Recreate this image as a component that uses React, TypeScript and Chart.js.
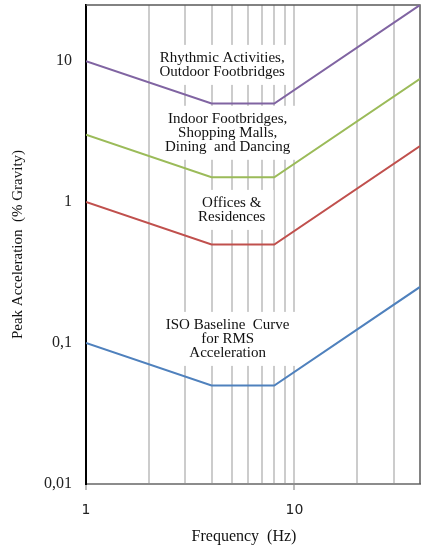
import { useEffect, useRef } from 'react';
import { Chart, registerables } from 'chart.js';

Chart.register(...registerables);

// Frequency breakpoints (Hz) shared by all acceptance curves
const frequencies = [1, 4, 8, 40];

// Peak acceleration limits (% gravity) at each breakpoint
const rhythmicActivities = [10, 5, 5, 25];
const indoorFootbridges = [3, 1.5, 1.5, 7.5];
const officesResidences = [1, 0.5, 0.5, 2.5];
const isoBaseline = [0.1, 0.05, 0.05, 0.25];

const seriesNames = [
  'Rhythmic Activities, Outdoor Footbridges',
  'Indoor Footbridges, Shopping Malls, Dining and Dancing',
  'Offices & Residences',
  'ISO Baseline Curve for RMS Acceleration',
];
const seriesColors = ['#8064A2', '#9BBB59', '#C0504D', '#4F81BD'];

// Axis ticks
const yTickValues = [0.01, 0.1, 1, 10];
const yTickLabels = ['0,01', '0,1', '1', '10'];
const xGridValues = [1, 2, 3, 4, 5, 6, 7, 8, 9, 10, 20, 30, 40];
const xLabelledValues = [1, 10];
const xTickLabels = ['1', '10'];

// Curve captions, anchored in data coordinates (Hz, % gravity)
const captionLines = [
  ['Rhythmic Activities,', 'Outdoor Footbridges'],
  ['Indoor Footbridges,', 'Shopping Malls,', 'Dining  and Dancing'],
  ['Offices &', 'Residences'],
  ['ISO Baseline  Curve', 'for RMS', 'Acceleration'],
];
const captionX = [4.5, 4.78, 5.0, 4.78];
const captionY = [9.4, 3.1, 0.88, 0.107];

const SERIF = '"Liberation Serif", "Times New Roman", serif';

const captionsPlugin = {
  id: 'captions',
  beforeDatasetsDraw(chart: any) {
    const { ctx, chartArea, scales } = chart;
    const xs = scales.x;
    const ys = scales.y;
    ctx.save();

    // top and right frame of the plot area
    ctx.strokeStyle = '#595959';
    ctx.lineWidth = 1.5;
    ctx.beginPath();
    ctx.moveTo(chartArea.left, chartArea.top);
    ctx.lineTo(chartArea.right, chartArea.top);
    ctx.lineTo(chartArea.right, chartArea.bottom);
    ctx.stroke();

    ctx.font = `15px ${SERIF}`;
    ctx.textAlign = 'center';
    ctx.textBaseline = 'middle';
    const lh = 14;
    captionLines.forEach((lines, i) => {
      const cx = xs.getPixelForValue(captionX[i]);
      const cy = ys.getPixelForValue(captionY[i]);
      const w = Math.max(...lines.map((l) => ctx.measureText(l).width));
      const h = lines.length * lh;
      ctx.fillStyle = '#ffffff';
      ctx.fillRect(cx - w / 2 - 8, cy - h / 2 - 6, w + 16, h + 12);
      ctx.fillStyle = '#111111';
      lines.forEach((line, j) => {
        ctx.fillText(line, cx, cy - h / 2 + lh / 2 + j * lh);
      });
    });
    ctx.restore();
  },
  afterDraw(chart: any) {
    const { ctx, chartArea } = chart;
    ctx.save();
    ctx.fillStyle = '#111111';
    ctx.font = `16px ${SERIF}`;
    ctx.textAlign = 'center';
    ctx.textBaseline = 'middle';
    ctx.fillText('Frequency  (Hz)', (chartArea.left + chartArea.right) / 2 - 9, chartArea.bottom + 53);
    ctx.font = `15px ${SERIF}`;
    ctx.translate(18, (chartArea.top + chartArea.bottom) / 2);
    ctx.rotate(-Math.PI / 2);
    ctx.fillText('Peak Acceleration  (% Gravity)', 0, 0);
    ctx.restore();
  },
};

export default function App() {
  const canvasRef = useRef<HTMLCanvasElement | null>(null);

  useEffect(() => {
    const canvas = canvasRef.current;
    if (!canvas) return;
    const series = [rhythmicActivities, indoorFootbridges, officesResidences, isoBaseline];

    const chart = new Chart(canvas, {
      type: 'line',
      data: {
        datasets: series.map((values, i) => ({
          label: seriesNames[i],
          data: frequencies.map((f, k) => ({ x: f, y: values[k] })),
          borderColor: seriesColors[i],
          backgroundColor: seriesColors[i],
          borderWidth: 2,
          pointRadius: 0,
          tension: 0,
          fill: false,
        })),
      },
      options: {
        responsive: false,
        animation: false,
        events: [],
        layout: { padding: { left: 0, top: 5, right: 4, bottom: 0 } },
        plugins: {
          legend: { display: false },
          tooltip: { enabled: false },
        },
        scales: {
          x: {
            type: 'logarithmic',
            min: 1,
            max: 40,
            afterBuildTicks: (scale: any) => {
              scale.ticks = xGridValues.map((v) => ({ value: v }));
            },
            afterFit: (scale: any) => {
              scale.height = 67;
              scale.paddingLeft = 0;
              scale.paddingRight = 0;
            },
            grid: {
              color: (c: any) =>
                c.tick && (c.tick.value === 1 || c.tick.value === 40) ? 'rgba(0,0,0,0)' : '#cccccc',
              lineWidth: 2,
              drawTicks: true,
              tickLength: 6,
              tickWidth: 2,
              tickColor: (c: any) =>
                c.tick && xLabelledValues.includes(c.tick.value) ? '#bdbdbd' : 'rgba(0,0,0,0)',
            },
            border: { display: true, color: '#8c8c8c', width: 2 },
            ticks: {
              autoSkip: false,
              maxRotation: 0,
              minRotation: 0,
              padding: 12,
              color: '#222222',
              font: { family: '"DejaVu Sans", sans-serif', size: 14 },
              callback: (v: any) => {
                const idx = xLabelledValues.indexOf(Number(v));
                return idx >= 0 ? xTickLabels[idx] : '';
              },
            },
          },
          y: {
            type: 'logarithmic',
            min: 0.01,
            max: 25,
            afterBuildTicks: (scale: any) => {
              scale.ticks = yTickValues.map((v) => ({ value: v }));
            },
            afterFit: (scale: any) => {
              scale.width = 86;
              scale.paddingTop = 0;
              scale.paddingBottom = 0;
            },
            grid: { display: false, drawTicks: false },
            border: { display: true, color: '#000000', width: 2 },
            ticks: {
              padding: 14,
              color: '#222222',
              font: { family: SERIF, size: 16 },
              callback: (v: any) => {
                const idx = yTickValues.indexOf(Number(v));
                return idx >= 0 ? yTickLabels[idx] : '';
              },
            },
          },
        },
      },
      plugins: [captionsPlugin],
    } as any);

    return () => chart.destroy();
  }, []);

  return (
    <div style={{ position: 'absolute', left: 0, top: 0, width: 424, height: 551, background: '#fff' }}>
      <canvas ref={canvasRef} width={424} height={551} />
    </div>
  );
}
